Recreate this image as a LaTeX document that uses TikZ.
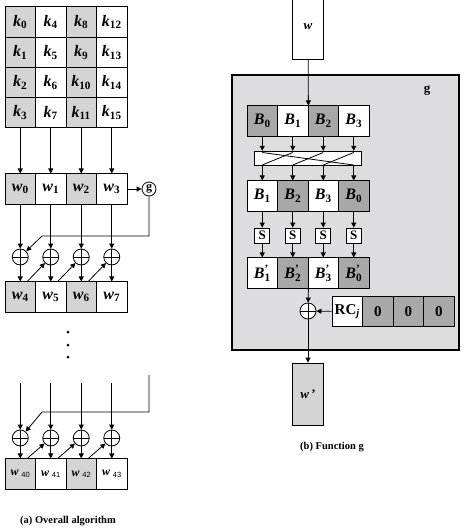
\documentclass[tikz,border=0pt]{standalone}
\usepackage{fontspec}
\setmainfont{Liberation Serif}
\setsansfont{Liberation Sans}
\usetikzlibrary{arrows.meta}

\definecolor{lgray}{RGB}{212,212,212}
\definecolor{dgray}{RGB}{168,168,168}
\definecolor{ggray}{RGB}{221,221,223}

\newcommand{\kv}[1]{\textbf{\textit{k}}\textsubscript{\textbf{#1}}}
\newcommand{\wv}[1]{\textbf{\textit{w}}\textsubscript{\textbf{#1}}}
\newcommand{\wl}[1]{{\fontsize{12}{13}\selectfont\textbf{\textit{w}}}\,\raisebox{-1.5pt}{\sffamily\fontsize{7.5}{8}\selectfont #1}}
\newcommand{\bv}[1]{\textbf{\textit{B}}\textsubscript{\textbf{#1}}}
\newcommand{\bp}[1]{\textbf{\textit{B}}\rlap{\textsuperscript{\textbf{'}}}\textsubscript{\textbf{#1}}}

\begin{document}
\begin{tikzpicture}[x=1pt, y=-1pt, line width=.8pt,
	cell/.style={draw, minimum width=30.5pt, minimum height=30.25pt, inner sep=0pt, font=\fontsize{16}{18}\selectfont},
	sbox/.style={draw, fill=white, minimum size=15pt, inner sep=0pt, font=\bfseries\fontsize{13}{14}\selectfont},
	xor/.style={circle, draw, fill=white, minimum size=16pt, inner sep=0pt, path picture={\draw (path picture bounding box.north) -- (path picture bounding box.south) (path picture bounding box.west) -- (path picture bounding box.east);}},
	arr/.style={-{Triangle[length=5pt,width=5pt]}}]
	\useasboundingbox (0,0) rectangle (464,531);

	% (a) key expansion
	\node[cell, fill=lgray] (k0) at (20.25,22) {\kv{0}};
	\node[cell, fill=lgray] (k1) at (20.25,52.25) {\kv{1}};
	\node[cell, fill=lgray] (k2) at (20.25,82.5) {\kv{2}};
	\node[cell, fill=lgray] (k3) at (20.25,112.75) {\kv{3}};
	\node[cell] (k4) at (50.75,22) {\kv{4}};
	\node[cell] (k5) at (50.75,52.25) {\kv{5}};
	\node[cell] (k6) at (50.75,82.5) {\kv{6}};
	\node[cell] (k7) at (50.75,112.75) {\kv{7}};
	\node[cell, fill=lgray] (k8) at (81.25,22) {\kv{8}};
	\node[cell, fill=lgray] (k9) at (81.25,52.25) {\kv{9}};
	\node[cell, fill=lgray] (k10) at (81.25,82.5) {\kv{10}};
	\node[cell, fill=lgray] (k11) at (81.25,112.75) {\kv{11}};
	\node[cell] (k12) at (111.75,22) {\kv{12}};
	\node[cell] (k13) at (111.75,52.25) {\kv{13}};
	\node[cell] (k14) at (111.75,82.5) {\kv{14}};
	\node[cell] (k15) at (111.75,112.75) {\kv{15}};

	\node[cell, fill=lgray] (w0) at (20.25,189) {\wv{0}};
	\node[cell] (w1) at (50.75,189) {\wv{1}};
	\node[cell, fill=lgray] (w2) at (81.25,189) {\wv{2}};
	\node[cell] (w3) at (111.75,189) {\wv{3}};
	\node[circle, draw, minimum size=14pt, inner sep=0pt, font=\bfseries\fontsize{12}{13}\selectfont] (gc) at (149,189) {g};

	\node[xor] (x0) at (20.25,257) {};
	\node[xor] (x1) at (50.75,257) {};
	\node[xor] (x2) at (81.25,257) {};
	\node[xor] (x3) at (111.75,257) {};

	\node[cell, fill=lgray] (w4) at (20.25,297) {\wv{4}};
	\node[cell] (w5) at (50.75,297) {\wv{5}};
	\node[cell, fill=lgray] (w6) at (81.25,297) {\wv{6}};
	\node[cell] (w7) at (111.75,297) {\wv{7}};

	\node[circle, fill=black, inner sep=0pt, minimum size=3pt] (p0) at (68,332) {};
	\node[circle, fill=black, inner sep=0pt, minimum size=3pt] (p1) at (68,345) {};
	\node[circle, fill=black, inner sep=0pt, minimum size=3pt] (p2) at (68,357) {};

	\coordinate (t0) at (20.25,383);
	\coordinate (t1) at (50.75,383);
	\coordinate (t2) at (81.25,383);
	\coordinate (t3) at (111.75,383);
	\coordinate (tg) at (149,375);
	\node[xor] (z0) at (20.25,438) {};
	\node[xor] (z1) at (50.75,438) {};
	\node[xor] (z2) at (81.25,438) {};
	\node[xor] (z3) at (111.75,438) {};

	\node[cell, fill=lgray] (w40) at (20.25,474) {\wl{40}};
	\node[cell] (w41) at (50.75,474) {\wl{41}};
	\node[cell, fill=lgray] (w42) at (81.25,474) {\wl{42}};
	\node[cell] (w43) at (111.75,474) {\wl{43}};

	\node[font=\bfseries\fontsize{10.5}{12}\selectfont] (capa) at (68,521) {(a) Overall algorithm};

	\draw[arr] (k3) -- (w0);
	\draw[arr] (k7) -- (w1);
	\draw[arr] (k11) -- (w2);
	\draw[arr] (k15) -- (w3);
	\draw[arr] (w3) -- (gc);
	\draw[arr] (gc) -- (149,236) -- (42,236) -- (x0);
	\draw[arr] (w0) -- (x0);
	\draw[arr] (w1) -- (x1);
	\draw[arr] (w2) -- (x2);
	\draw[arr] (w3) -- (x3);
	\draw[arr] (x0) -- (w4);
	\draw[arr] (x1) -- (w5);
	\draw[arr] (x2) -- (w6);
	\draw[arr] (x3) -- (w7);
	\draw[arr] ([xshift=7pt]w4.north) -- (x1);
	\draw[arr] ([xshift=7pt]w5.north) -- (x2);
	\draw[arr] ([xshift=7pt]w6.north) -- (x3);

	\draw[arr] (t0) -- (z0);
	\draw[arr] (t1) -- (z1);
	\draw[arr] (t2) -- (z2);
	\draw[arr] (t3) -- (z3);
	\draw[arr] (tg) -- (149,412) -- (42,412) -- (z0);
	\draw[arr] (z0) -- (w40);
	\draw[arr] (z1) -- (w41);
	\draw[arr] (z2) -- (w42);
	\draw[arr] (z3) -- (w43);
	\draw[arr] ([xshift=7pt]w40.north) -- (z1);
	\draw[arr] ([xshift=7pt]w41.north) -- (z2);
	\draw[arr] ([xshift=7pt]w42.north) -- (z3);

	% (b) function g
	\node[draw, minimum width=31pt, minimum height=64pt, inner sep=0pt, font=\fontsize{13}{14}\selectfont] (wb) at (308,27) {\textbf{\textit{w}}};
	\node[draw, line width=2.5pt, fill=ggray, minimum width=227pt, minimum height=275pt] (gbox) at (345.5,212.5) {};
	\node[font=\bfseries\fontsize{13}{14}\selectfont] (gl) at (427,91) {g};

	\node[cell, fill=dgray] (b0) at (262.25,121) {\bv{0}};
	\node[cell, fill=white] (b1) at (292.75,121) {\bv{1}};
	\node[cell, fill=dgray] (b2) at (323.25,121) {\bv{2}};
	\node[cell, fill=white] (b3) at (353.75,121) {\bv{3}};

	\node[draw, fill=white, minimum width=107pt, minimum height=14.5pt, inner sep=0pt] (pm) at (308,158.5) {};
	\draw (262.25,152.5) -- (353.75,165);
	\draw (262.25,165) -- (292.75,152.5);
	\draw (292.75,165) -- (323.25,152.5);
	\draw (323.25,165) -- (353.75,152.5);

	\node[cell, fill=white] (c0) at (262.25,196) {\bv{1}};
	\node[cell, fill=dgray] (c1) at (292.75,196) {\bv{2}};
	\node[cell, fill=white] (c2) at (323.25,196) {\bv{3}};
	\node[cell, fill=dgray] (c3) at (353.75,196) {\bv{0}};

	\node[sbox] (s0) at (262.25,235.5) {S};
	\node[sbox] (s1) at (292.75,235.5) {S};
	\node[sbox] (s2) at (323.25,235.5) {S};
	\node[sbox] (s3) at (353.75,235.5) {S};

	\node[cell, fill=white] (d0) at (262.25,273) {\bp{1}};
	\node[cell, fill=dgray] (d1) at (292.75,273) {\bp{2}};
	\node[cell, fill=white] (d2) at (323.25,273) {\bp{3}};
	\node[cell, fill=dgray] (d3) at (353.75,273) {\bp{0}};

	\node[xor] (xg) at (308,311) {};
	\node[cell, fill=white, font=\bfseries\fontsize{15}{16}\selectfont] (r0) at (347.25,311.5) {RC\textsubscript{\textit{j}}};
	\node[cell, fill=dgray, font=\bfseries\fontsize{15}{16}\selectfont] (r1) at (377.75,311.5) {0};
	\node[cell, fill=dgray, font=\bfseries\fontsize{15}{16}\selectfont] (r2) at (408.25,311.5) {0};
	\node[cell, fill=dgray, font=\bfseries\fontsize{15}{16}\selectfont] (r3) at (438.75,311.5) {0};

	\node[draw, fill=lgray, minimum width=31pt, minimum height=62pt, inner sep=0pt, font=\fontsize{13}{14}\selectfont] (wp) at (308,394) {\textbf{\textit{w}}\,\textbf{'}};

	\node[font=\bfseries\fontsize{10.5}{12}\selectfont] (capb) at (332,447) {(b) Function g};

	\draw[arr] (wb) -- (b1.north east);
	\draw[arr] (b0) -- (b0 |- pm.north);
	\draw[arr] (b1) -- (b1 |- pm.north);
	\draw[arr] (b2) -- (b2 |- pm.north);
	\draw[arr] (b3) -- (b3 |- pm.north);
	\draw[arr] (pm.south -| c0) -- (c0);
	\draw[arr] (pm.south -| c1) -- (c1);
	\draw[arr] (pm.south -| c2) -- (c2);
	\draw[arr] (pm.south -| c3) -- (c3);
	\draw[arr] (c0) -- (s0);
	\draw[arr] (c1) -- (s1);
	\draw[arr] (c2) -- (s2);
	\draw[arr] (c3) -- (s3);
	\draw[arr] (s0) -- (d0);
	\draw[arr] (s1) -- (d1);
	\draw[arr] (s2) -- (d2);
	\draw[arr] (s3) -- (d3);
	\draw[arr] (d1.south east) -- (xg);
	\draw[arr] (r0) -- (xg);
	\draw[arr] (xg) -- (wp);
\end{tikzpicture}
\end{document}
